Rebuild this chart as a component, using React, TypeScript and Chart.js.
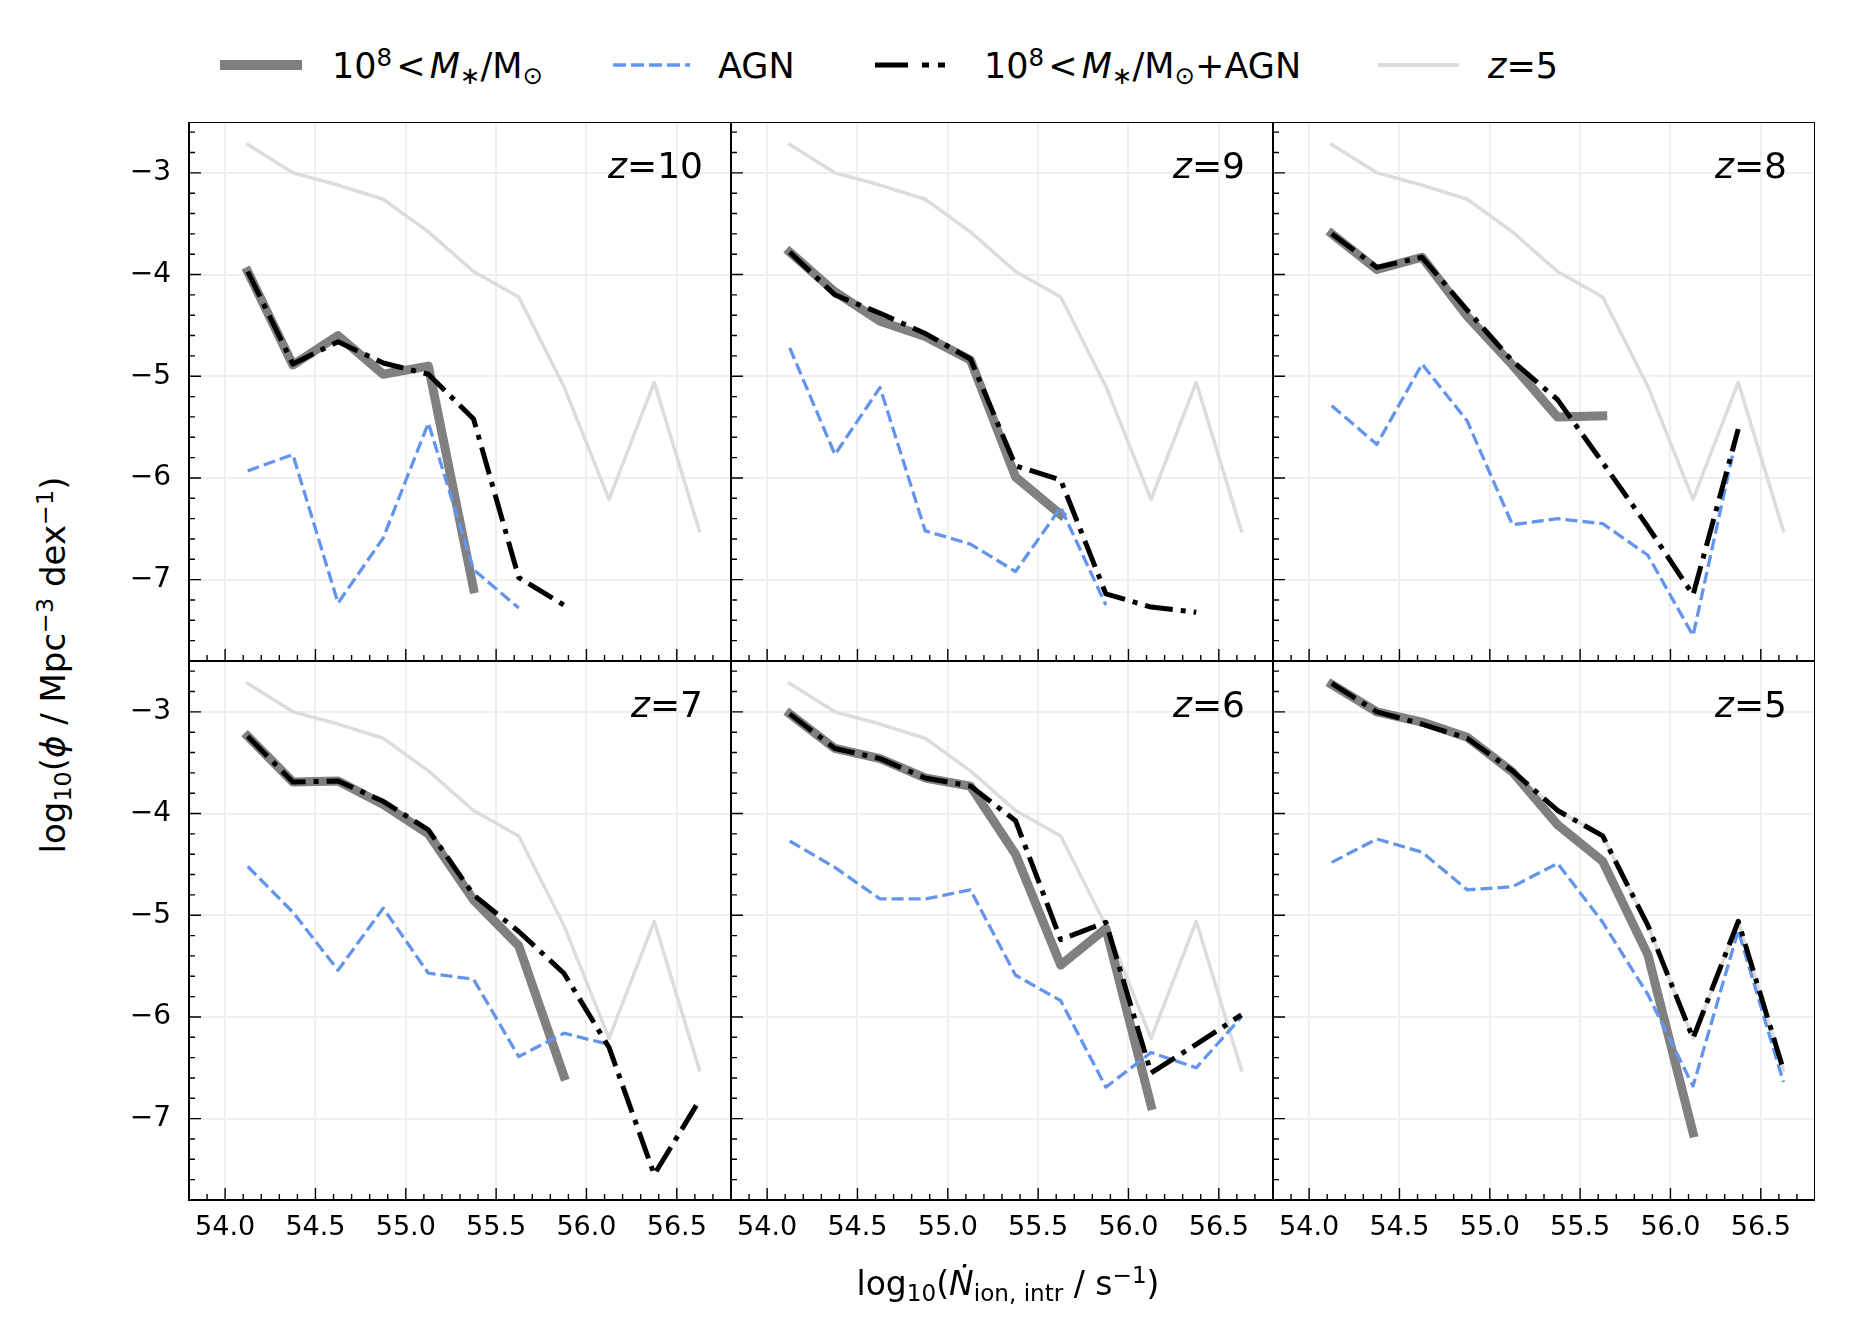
import { useEffect, useRef } from "react";
import Chart from "chart.js/auto";

// bin centres in log10(Ndot_ion,intr / s^-1)
const binCentres = [54.125, 54.375, 54.625, 54.875, 55.125, 55.375, 55.625, 55.875, 56.125, 56.375, 56.625];
const xTicks = [54.0, 54.5, 55.0, 55.5, 56.0, 56.5];
const yTicks = [-7, -6, -5, -4, -3];
const redshifts = [10, 9, 8, 7, 6, 5];

// z = 5 total, repeated in every panel as a reference
const refZ5 = [-2.72, -3.0, -3.12, -3.26, -3.58, -3.97, -4.22, -5.1, -6.21, -5.06, -6.52];

const stellarZ10 = [-3.97, -4.89, -4.6, -4.98, -4.9, -7.09];
const combinedZ10 = [-3.97, -4.88, -4.66, -4.87, -4.98, -5.42, -6.98, -7.25];
const agnZ10 = [-5.93, -5.77, -7.23, -6.59, -5.46, -6.9, -7.28];

const stellarZ9 = [-3.78, -4.17, -4.46, -4.61, -4.84, -5.99, -6.36];
const combinedZ9 = [-3.78, -4.2, -4.38, -4.58, -4.83, -5.88, -6.02, -7.14, -7.27, -7.32];
const agnZ9 = [-4.72, -5.77, -5.11, -6.52, -6.65, -6.92, -6.29, -7.25];

const stellarZ8 = [-3.6, -3.95, -3.83, -4.41, -4.89, -5.4, -5.39];
const combinedZ8 = [-3.6, -3.93, -3.83, -4.35, -4.85, -5.23, -5.85, -6.48, -7.15, -5.52];
const agnZ8 = [-5.29, -5.67, -4.88, -5.44, -6.46, -6.4, -6.45, -6.76, -7.55, -5.52];

const stellarZ7 = [-3.24, -3.69, -3.68, -3.91, -4.2, -4.85, -5.3, -6.58];
const combinedZ7 = [-3.24, -3.69, -3.68, -3.88, -4.16, -4.8, -5.16, -5.57, -6.3, -7.55, -6.82];
const agnZ7 = [-4.52, -4.97, -5.54, -4.93, -5.57, -5.63, -6.39, -6.16, -6.27];

const stellarZ6 = [-3.02, -3.36, -3.46, -3.65, -3.73, -4.4, -5.49, -5.13, -6.87];
const combinedZ6 = [-3.02, -3.36, -3.46, -3.65, -3.73, -4.07, -5.24, -5.07, -6.55, -6.27, -5.98];
const agnZ6 = [-4.27, -4.53, -4.84, -4.84, -4.75, -5.59, -5.84, -6.69, -6.35, -6.5, -6.0];

const stellarZ5 = [-2.73, -3.0, -3.1, -3.25, -3.59, -4.11, -4.47, -5.39, -7.14];
const combinedZ5 = [-2.72, -3.0, -3.12, -3.26, -3.58, -3.97, -4.22, -5.1, -6.21, -5.06, -6.52];
const agnZ5 = [-4.48, -4.25, -4.38, -4.75, -4.72, -4.49, -5.07, -5.78, -6.68, -5.15, -6.64];

const stellarAll = [stellarZ10, stellarZ9, stellarZ8, stellarZ7, stellarZ6, stellarZ5];
const combinedAll = [combinedZ10, combinedZ9, combinedZ8, combinedZ7, combinedZ6, combinedZ5];
const agnAll = [agnZ10, agnZ9, agnZ8, agnZ7, agnZ6, agnZ5];

const PANEL_LEFT = [189, 731, 1273];
const PANEL_TOP = [122, 661];
const PW = 542;
const PH = 539;
const ML = 80;
const MB = 70;

const FONT = "'DejaVu Sans', sans-serif";
const GREY = "#808080";
const BLUE = "#6495ED";
const LIGHT = "#dcdcdc";

const framePlugin = {
  id: "frame",
  afterDraw(chart: any) {
    const { ctx, chartArea: a } = chart;
    const xs = chart.scales.x;
    const ys = chart.scales.y;
    ctx.save();
    ctx.strokeStyle = "#000";
    ctx.lineWidth = 1.4;
    ctx.beginPath();
    for (let i = 539; i <= 567; i++) {
      const px = xs.getPixelForValue(i / 10);
      const len = i % 5 === 0 ? 12 : 6;
      ctx.moveTo(px, a.bottom);
      ctx.lineTo(px, a.bottom - len);
    }
    for (let i = -38; i <= -13; i++) {
      const py = ys.getPixelForValue(i / 5);
      const len = i % 5 === 0 ? 12 : 6;
      ctx.moveTo(a.left, py);
      ctx.lineTo(a.left + len, py);
    }
    ctx.stroke();
    ctx.lineWidth = 2;
    ctx.strokeRect(a.left, a.top, a.right - a.left, a.bottom - a.top);
    ctx.restore();
  },
};

function Panel({ idx }: { idx: number }) {
  const ref = useRef<HTMLCanvasElement>(null);
  const col = idx % 3;
  const row = Math.floor(idx / 3);

  useEffect(() => {
    if (!ref.current) return;
    const pts = (vals: number[]) => vals.map((v, i) => ({ x: binCentres[i], y: v }));
    const chart = new Chart(ref.current, {
      type: "line",
      data: {
        datasets: [
          {
            label: "combined",
            data: pts(combinedAll[idx]),
            borderColor: "#000",
            borderWidth: 5,
            borderDash: [28, 8, 5, 8],
            borderCapStyle: "butt",
            order: 0,
          },
          {
            label: "AGN",
            data: pts(agnAll[idx]),
            borderColor: BLUE,
            borderWidth: 3.3,
            borderDash: [12, 5],
            borderCapStyle: "butt",
            order: 1,
          },
          {
            label: "stellar",
            data: pts(stellarAll[idx]),
            borderColor: GREY,
            borderWidth: 9,
            borderCapStyle: "square",
            order: 2,
          },
          {
            label: "z=5",
            data: pts(refZ5),
            borderColor: LIGHT,
            borderWidth: 3.5,
            borderCapStyle: "square",
            order: 3,
          },
        ],
      },
      options: {
        animation: false,
        responsive: true,
        maintainAspectRatio: false,
        layout: { padding: 0 },
        elements: {
          point: { radius: 0, hoverRadius: 0 },
          line: { tension: 0, borderJoinStyle: "round", fill: false },
        },
        plugins: { legend: { display: false }, tooltip: { enabled: false } },
        scales: {
          x: {
            type: "linear",
            min: 53.8,
            max: 56.8,
            afterBuildTicks: (s: any) => {
              s.ticks = xTicks.map((v) => ({ value: v }));
            },
            afterFit: (s: any) => {
              s.height = MB;
              s.paddingLeft = 0;
              s.paddingRight = 0;
            },
            ticks: {
              display: row === 1,
              maxRotation: 0,
              autoSkip: false,
              padding: 12,
              color: "#000",
              font: { family: FONT, size: 27 },
              callback: (v: any) => Number(v).toFixed(1),
            },
            grid: { color: "#efefef", lineWidth: 2, drawTicks: false },
            border: { display: false },
          },
          y: {
            type: "linear",
            min: -7.8,
            max: -2.5,
            afterBuildTicks: (s: any) => {
              s.ticks = yTicks.map((v) => ({ value: v }));
            },
            afterFit: (s: any) => {
              s.width = ML;
              s.paddingTop = 0;
              s.paddingBottom = 0;
            },
            ticks: {
              display: col === 0,
              autoSkip: false,
              padding: 18,
              color: "#000",
              font: { family: FONT, size: 28 },
              callback: (v: any) => "\u2212" + Math.abs(Number(v)),
            },
            grid: { color: "#efefef", lineWidth: 2, drawTicks: false },
            border: { display: false },
          },
        },
      },
      plugins: [framePlugin],
    } as any);
    return () => chart.destroy();
  }, [idx]);

  return (
    <>
      <div
        style={{
          position: "absolute",
          left: PANEL_LEFT[col] - ML,
          top: PANEL_TOP[row],
          width: PW + ML,
          height: PH + MB,
        }}
      >
        <canvas ref={ref} />
      </div>
      <div
        style={{
          position: "absolute",
          left: PANEL_LEFT[col],
          top: PANEL_TOP[row] + 24,
          width: PW - 28,
          textAlign: "right",
          fontFamily: FONT,
          fontSize: 36,
          lineHeight: "40px",
          whiteSpace: "nowrap",
        }}
      >
        <i>z</i>=<span>{redshifts[idx]}</span>
      </div>
    </>
  );
}

const sup = { fontSize: "0.7em", verticalAlign: "0.5em", lineHeight: 0 };
const sub = { fontSize: "0.7em", verticalAlign: "-0.25em", lineHeight: 0 };

function MassLabel() {
  return (
    <>
      10<span style={sup}>8</span>
      <span style={{ margin: "0 0.12em" }}>&lt;</span>
      <i>M</i>
      <span style={sub}>∗</span>/M<span style={sub}>⊙</span>
    </>
  );
}

function Legend() {
  const textStyle = (left: number) => ({
    position: "absolute" as const,
    left,
    top: 46,
    fontFamily: FONT,
    fontSize: 35,
    lineHeight: "40px",
    whiteSpace: "nowrap" as const,
  });
  return (
    <>
      <svg
        width={1869}
        height={110}
        style={{ position: "absolute", left: 0, top: 0 }}
      >
        <line x1={220} y1={65} x2={302} y2={65} stroke={GREY} strokeWidth={10} />
        <line x1={613} y1={65} x2={690} y2={65} stroke={BLUE} strokeWidth={3.3} strokeDasharray="13 5" />
        <line x1={875} y1={65} x2={950} y2={65} stroke="#000" strokeWidth={5} strokeDasharray="33 14 7 9 7 40" />
        <line x1={1378} y1={65} x2={1459} y2={65} stroke={LIGHT} strokeWidth={4} />
      </svg>
      <div style={textStyle(332)}>
        <MassLabel />
      </div>
      <div style={textStyle(718)}>AGN</div>
      <div style={textStyle(984)}>
        <MassLabel />+AGN
      </div>
      <div style={textStyle(1488)}>
        <i>z</i>=5
      </div>
    </>
  );
}

export default function App() {
  return (
    <div
      style={{
        position: "absolute",
        left: 0,
        top: 0,
        width: 1869,
        height: 1336,
        background: "#fff",
        overflow: "hidden",
        color: "#000",
      }}
    >
      <Legend />
      {redshifts.map((_, i) => (
        <Panel key={i} idx={i} />
      ))}
      <div
        style={{
          position: "absolute",
          left: 53,
          top: 665,
          transform: "translate(-50%, -50%) rotate(-90deg)",
          fontFamily: FONT,
          fontSize: 34,
          lineHeight: "40px",
          whiteSpace: "nowrap",
        }}
      >
        log<span style={sub}>10</span>(<i>ϕ</i> / Mpc<span style={sup}>−3</span> dex
        <span style={sup}>−1</span>)
      </div>
      <div
        style={{
          position: "absolute",
          left: 1008 - 300,
          top: 1264,
          width: 600,
          textAlign: "center",
          fontFamily: FONT,
          fontSize: 33,
          lineHeight: "40px",
          whiteSpace: "nowrap",
        }}
      >
        log<span style={sub}>10</span>(<i>Ṅ</i>
        <span style={sub}>ion, intr</span> / s<span style={sup}>−1</span>)
      </div>
    </div>
  );
}
